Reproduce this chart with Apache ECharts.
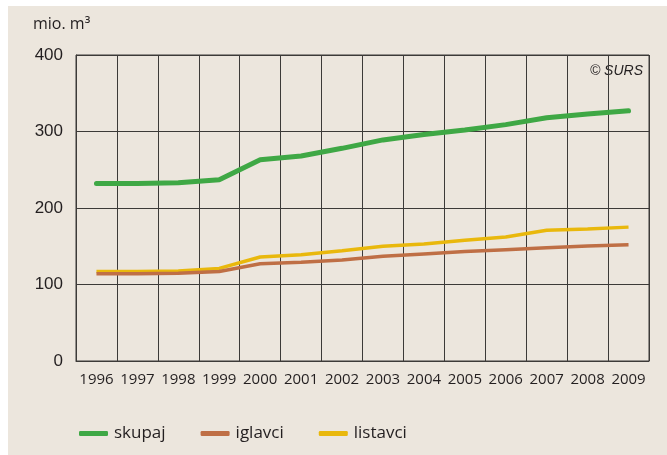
<!DOCTYPE html>
<html>
<head>
<meta charset="utf-8">
<script src="https://cdn.jsdelivr.net/npm/echarts@6/dist/echarts.min.js"></script>
<style>
  html, body { margin: 0; padding: 0; background: #ffffff; }
  #bg { position: absolute; left: 8px; top: 6px; right: 0; bottom: 0; background: #ece6dd; }
  #chart { position: absolute; left: 0; top: 0; width: 667px; height: 455px; }
</style>
</head>
<body>
<div id="bg"></div>
<div id="chart"></div>
<script>
const years = ['1996','1997','1998','1999','2000','2001','2002','2003','2004','2005','2006','2007','2008','2009'];
const skupaj   = [232, 232, 233, 237, 263, 268, 278, 289, 296, 302, 309, 318, 323, 327];
const iglavci  = [114, 114, 114.6, 117, 127, 129, 132, 136.8, 140, 143, 145.5, 148, 150.3, 152];
const listavci = [117, 117, 117.6, 121, 136, 139, 144, 150, 153, 157.7, 162, 171, 172.5, 175];
const yTicks = [0, 100, 200, 300, 400];
const unitLabel = 'mio. m³';
const sourceLabel = '© SURS';

const chart = echarts.init(document.getElementById('chart'), null, { renderer: 'canvas' });
const textColor = '#231f20';
const gridColor = '#3c3a38';

chart.setOption({
  backgroundColor: 'transparent',
  animation: false,
  grid: { left: 76, right: 18, top: 55, bottom: 94, show: true, borderColor: gridColor, borderWidth: 1, backgroundColor: 'transparent' },
  xAxis: {
    type: 'category',
    data: years,
    boundaryGap: true,
    axisLine: { show: true, lineStyle: { color: gridColor, width: 1 } },
    axisTick: { show: false, interval: 0 },
    splitLine: { show: true, interval: 0, lineStyle: { color: gridColor, width: 1 } },
    axisLabel: { interval: 0, color: textColor, fontFamily: 'Open Sans', fontSize: 15, margin: 11 }
  },
  yAxis: {
    type: 'value',
    min: yTicks[0],
    max: yTicks[yTicks.length - 1],
    interval: 100,
    axisLine: { show: true, lineStyle: { color: gridColor, width: 1 } },
    axisTick: { show: false },
    splitLine: { show: true, lineStyle: { color: gridColor, width: 1 } },
    axisLabel: { color: textColor, fontFamily: 'Liberation Sans', fontSize: 17, margin: 13 }
  },
  legend: {
    left: 74,
    top: 420,
    itemWidth: 29,
    itemHeight: 5,
    itemGap: 35,
    icon: 'roundRect',
    textStyle: { color: textColor, fontFamily: 'Open Sans', fontSize: 17, padding: [0, 0, 0, 1] },
    data: ['skupaj', 'iglavci', 'listavci']
  },
  graphic: [
    { type: 'text', left: 33, top: 16, style: { text: unitLabel, fill: textColor, font: '16px "Open Sans"' } },
    { type: 'text', right: 24, top: 64, style: { text: sourceLabel, fill: textColor, font: 'italic 14px "Liberation Sans"' } }
  ],
  series: [
    { name: 'listavci', type: 'line', data: listavci, symbol: 'none', lineStyle: { color: '#e9b80c', width: 3.5 }, itemStyle: { color: '#e9b80c' }, z: 2 },
    { name: 'iglavci', type: 'line', data: iglavci, symbol: 'none', lineStyle: { color: '#bf6f45', width: 3.5 }, itemStyle: { color: '#bf6f45' }, z: 3 },
    { name: 'skupaj', type: 'line', data: skupaj, symbol: 'none', lineStyle: { color: '#3fa845', width: 5, cap: 'round' }, itemStyle: { color: '#3fa845' }, z: 4 }
  ]
});
</script>
</body>
</html>
